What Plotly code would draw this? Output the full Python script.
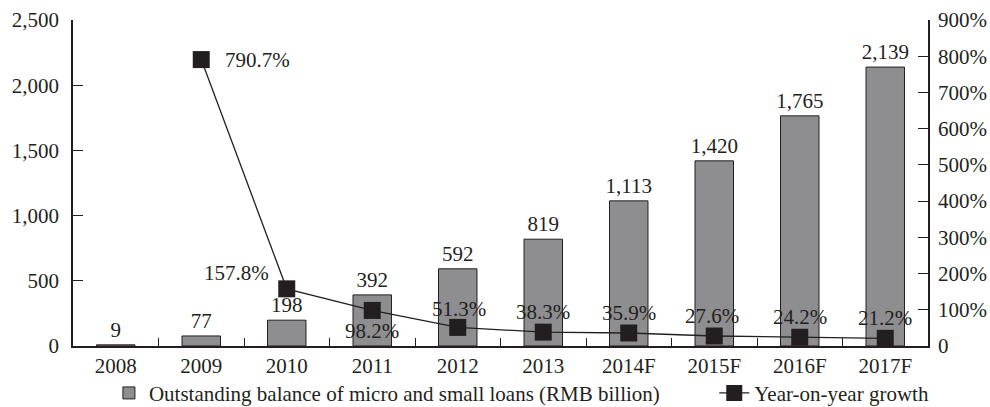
import plotly.graph_objects as go

# Outstanding balance of micro and small loans and its annual growth
years = ["2008", "2009", "2010", "2011", "2012", "2013", "2014F", "2015F", "2016F", "2017F"]
balance = [9, 77, 198, 392, 592, 819, 1113, 1420, 1765, 2139]
growth = [None, 790.7, 157.8, 98.2, 51.3, 38.3, 35.9, 27.6, 24.2, 21.2]

left_ticks = [0, 500, 1000, 1500, 2000, 2500]
right_ticks = [0, 100, 200, 300, 400, 500, 600, 700, 800, 900]
right_labels = ["0"] + [f"{v}%" for v in right_ticks[1:]]

# label placement for each growth point: (xanchor, xshift px, yshift px)
label_place = [None, ("left", 22, 0), ("right", -16, 16), ("center", 0, -21),
               ("center", 1, 18), ("center", 0, 20), ("center", 0, 20),
               ("center", -2, 20), ("center", 0, 20), ("center", 0, 20)]

FONT = "Liberation Serif, Times New Roman, serif"
INK = "#231f20"
FS = 21

fig = go.Figure()

fig.add_trace(go.Bar(
    x=years, y=balance,
    name="Outstanding balance of micro and small loans (RMB billion)",
    marker=dict(color="#8e8e91", line=dict(color=INK, width=1)),
    width=0.45,
    text=[f"{v:,}" for v in balance],
    textposition="outside",
    constraintext="none",
    textfont=dict(family=FONT, size=FS, color=INK),
    cliponaxis=False,
    yaxis="y",
    legend="legend",
))

fig.add_trace(go.Scatter(
    x=years, y=growth,
    name="Year-on-year growth",
    mode="lines+markers",
    line=dict(color=INK, width=1.3),
    marker=dict(symbol="square", size=17, color=INK),
    cliponaxis=False,
    connectgaps=False,
    yaxis="y2",
    legend="legend2",
))

# growth labels, anchored on the data points (category index on the x axis)
for i, (g, place) in enumerate(zip(growth, label_place)):
    if g is None:
        continue
    anchor, dx, dy = place
    fig.add_annotation(
        x=i, y=g, xref="x", yref="y2",
        text=f"{g}%", showarrow=False,
        xanchor=anchor, yanchor="middle",
        xshift=dx, yshift=dy,
        font=dict(family=FONT, size=FS, color=INK),
    )

legend_common = dict(
    orientation="h", y=-0.145, yanchor="middle",
    xanchor="left", bgcolor="rgba(0,0,0,0)",
    font=dict(family=FONT, size=FS, color=INK),
)

fig.update_layout(
    width=990, height=407,
    margin=dict(l=73, r=62, t=20, b=61, autoexpand=False),
    paper_bgcolor="white",
    plot_bgcolor="white",
    font=dict(family=FONT, size=FS, color=INK),
    showlegend=True,
    legend=dict(x=0.042, **legend_common),
    legend2=dict(x=0.75, **legend_common),
    bargap=0.55,
    xaxis=dict(
        type="category",
        categoryorder="array", categoryarray=years,
        range=[-0.5, len(years) - 0.5],
        tickangle=0,
        showline=True, linecolor=INK, linewidth=1.5,
        ticks="inside", tickson="boundaries", ticklen=8, tickcolor=INK,
        showgrid=False, zeroline=False,
        tickfont=dict(family=FONT, size=FS, color=INK),
    ),
    yaxis=dict(
        range=[0, 2500],
        tickvals=left_ticks, tickformat=",",
        showline=True, linecolor=INK, linewidth=1.5,
        ticks="inside", ticklen=10, tickcolor=INK,
        ticklabelstandoff=8,
        showgrid=False, zeroline=False,
        tickfont=dict(family=FONT, size=FS, color=INK),
    ),
    yaxis2=dict(
        range=[0, 900], overlaying="y", side="right",
        tickvals=right_ticks, ticktext=right_labels,
        showline=True, linecolor=INK, linewidth=1.5,
        ticks="inside", ticklen=10, tickcolor=INK,
        ticklabelstandoff=4,
        showgrid=False, zeroline=False,
        tickfont=dict(family=FONT, size=FS, color=INK),
    ),
)

fig.write_html("out.html")
